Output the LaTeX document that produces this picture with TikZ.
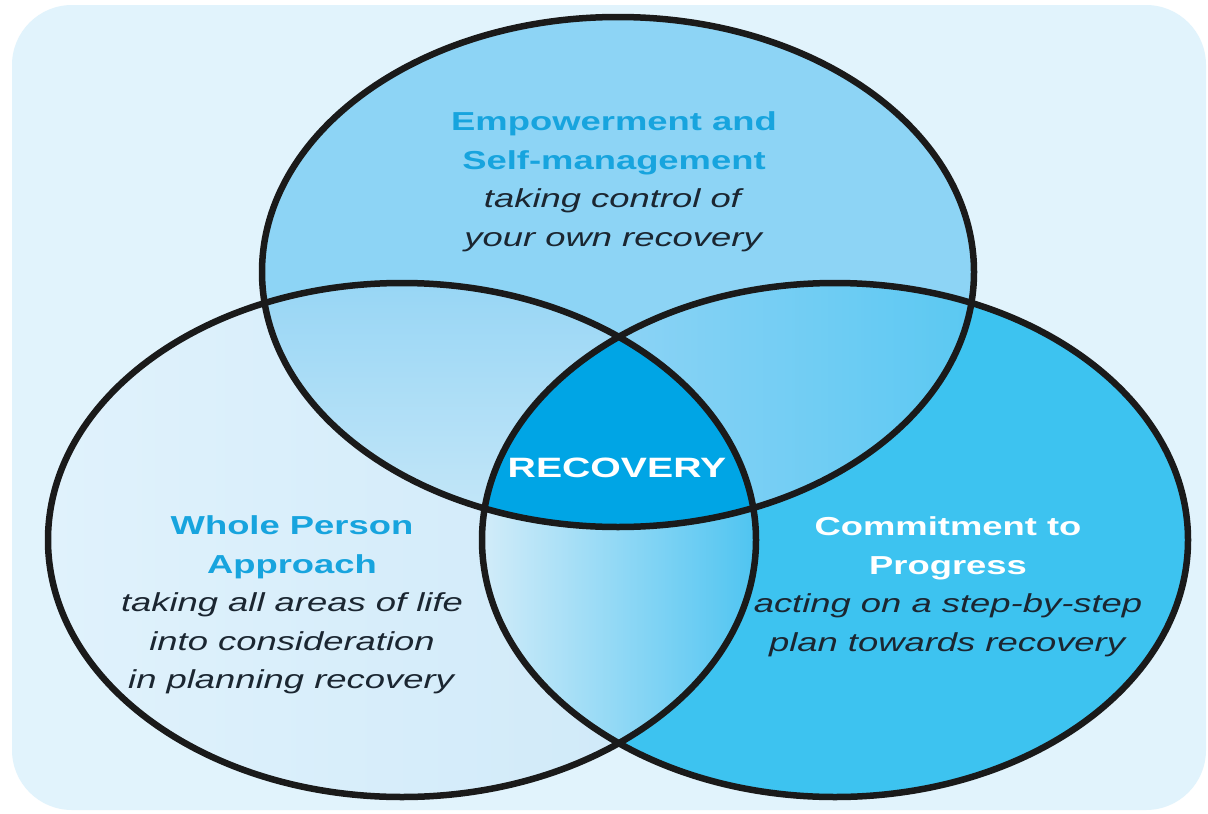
\documentclass[tikz,border=0pt]{standalone}
\usepackage{fontspec}
\setmainfont{Liberation Sans}
\definecolor{bgblue}{HTML}{E1F3FC}
\definecolor{topfill}{HTML}{8DD4F5}
\definecolor{rightfill}{HTML}{3DC3F0}
\definecolor{leftA}{HTML}{E0F2FC}
\definecolor{leftB}{HTML}{CDE8F8}
\definecolor{tlA}{HTML}{98D6F5}
\definecolor{tlB}{HTML}{C6E7F8}
\definecolor{trA}{HTML}{8CD3F5}
\definecolor{trB}{HTML}{5AC8F2}
\definecolor{lrA}{HTML}{D2ECF9}
\definecolor{lrB}{HTML}{4EC4F1}
\definecolor{centerfill}{HTML}{00A5E5}
\definecolor{headblue}{HTML}{17A4DE}
\definecolor{bodydark}{HTML}{1B2631}
\definecolor{ringline}{HTML}{1A1A1A}
\def\Etop{(618,272) ellipse [x radius=356, y radius=255]}
\def\Eleft{(402,540) ellipse [x radius=354, y radius=257]}
\def\Eright{(835,540) ellipse [x radius=353, y radius=257]}
\tikzset{
  ring/.style={draw=ringline, line width=6.5pt},
  label/.style={align=center, xscale=1.4, font=\fontsize{26}{38.5}\selectfont, text=bodydark},
}
\newcommand{\hd}[1]{\textcolor{headblue}{\textbf{#1}}}
\newcommand{\hw}[1]{\textcolor{white}{\textbf{#1}}}
\begin{document}
\begin{tikzpicture}[x=1pt,y=-1pt]
\useasboundingbox (0,0) rectangle (1208,814);
\fill[white] (0,0) rectangle (1208,814);
\fill[bgblue] (12,5) [rounded corners=60] rectangle (1206,810);
% base fills
\shade[left color=leftA, right color=leftB] \Eleft;
\fill[rightfill] \Eright;
% left & right lens
\begin{scope}
  \clip \Eleft;
  \clip \Eright;
  \shade[left color=lrA, right color=lrB] (482,283) rectangle (757,800);
\end{scope}
\fill[topfill] \Etop;
% top & left
\begin{scope}
  \clip \Etop;
  \clip \Eleft;
  \shade[top color=tlA, bottom color=tlB] (262,283) rectangle (625,530);
\end{scope}
% top & right
\begin{scope}
  \clip \Etop;
  \clip \Eright;
  \shade[left color=trA, right color=trB] (615,283) rectangle (975,530);
\end{scope}
% center
\begin{scope}
  \clip \Etop;
  \clip \Eleft;
  \fill[centerfill] \Eright;
\end{scope}
% outlines
\draw[ring] \Etop;
\draw[ring] \Eleft;
\draw[ring] \Eright;
% texts
\node[label] (emp) at (614,182) {\hd{Empowerment and}\\ \hd{Self-management}\\ \textit{taking control of}\\ \textit{your own recovery}};
\node[label] (whole) at (292,605) {\hd{Whole Person}\\ \hd{Approach}\\ \textit{taking all areas of life}\\ \textit{into consideration}\\ \textit{in planning recovery}};
\node[label] (commit) at (948,587) {\hw{Commitment to}\\ \hw{Progress}\\ \textit{acting on a step-by-step}\\ \textit{plan towards recovery}};
\node[label, font=\fontsize{28}{34}\selectfont, text=white] (rec) at (617,468) {\textbf{RECOVERY}};
\end{tikzpicture}
\end{document}
